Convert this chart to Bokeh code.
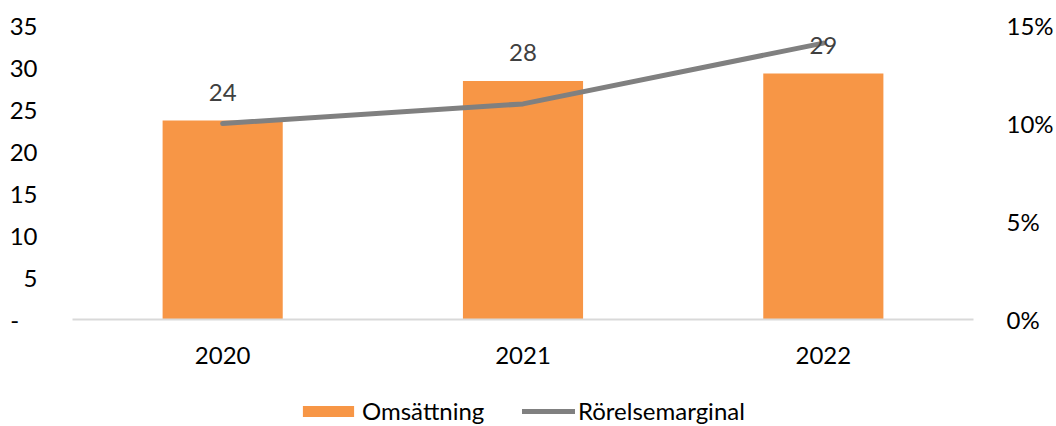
from bokeh.plotting import figure
from bokeh.layouts import column
from bokeh.models import (Range1d, LinearAxis, FixedTicker, NumeralTickFormatter,
                          Legend, LegendItem, ColumnDataSource)
from bokeh.core.properties import value
from bokeh.embed import file_html
from bokeh.resources import INLINE

years = ["2020", "2021", "2022"]
omsattning = [23.7, 28.4, 29.3]
omsattning_labels = ["24", "28", "29"]
marginal = [0.10, 0.11, 0.141]
left_ticks = [0, 5, 10, 15, 20, 25, 30, 35]
right_ticks = [0, 0.05, 0.10, 0.15]
series_names = ["Omsättning", "Rörelsemarginal"]

FONT = "Lato"
FS = "24px"
BAR_COLOR = "#F79646"
LINE_COLOR = "#808080"

src = ColumnDataSource(dict(x=years, y=omsattning, lab=omsattning_labels, m=marginal))

fig = figure(width=1056, height=386, x_range=years, y_range=Range1d(0, 35),
             output_backend="svg", toolbar_location=None,
             min_border_left=72, min_border_right=78, min_border_top=25, min_border_bottom=67)
fig.x_range.range_padding = 0
fig.outline_line_color = None
fig.grid.grid_line_color = None
fig.extra_y_ranges = {"pct": Range1d(0, 0.15)}

ya = fig.yaxis[0]
ya.ticker = FixedTicker(ticks=left_ticks)
ya.major_label_overrides = {0: "-\u00a0\u00a0\u00a0"}
ya.axis_line_color = None
ya.major_tick_line_color = None
ya.minor_tick_line_color = None
ya.major_label_standoff = 29
ya.major_label_text_font = FONT
ya.major_label_text_font_size = FS
ya.major_label_text_color = "#000000"

ra = LinearAxis(y_range_name="pct", ticker=FixedTicker(ticks=right_ticks),
                formatter=NumeralTickFormatter(format="0%"))
ra.axis_line_color = None
ra.major_tick_line_color = None
ra.minor_tick_line_color = None
ra.major_label_standoff = 27
ra.major_label_text_font = FONT
ra.major_label_text_font_size = FS
ra.major_label_text_color = "#000000"
fig.add_layout(ra, "right")

xa = fig.xaxis[0]
xa.axis_line_color = "#D9D9D9"
xa.axis_line_width = 2
xa.major_tick_line_color = None
xa.minor_tick_line_color = None
xa.major_label_standoff = 21
xa.major_label_text_font = FONT
xa.major_label_text_font_size = FS
xa.major_label_text_color = "#000000"

fig.vbar(x="x", top="y", width=0.4, source=src, fill_color=BAR_COLOR, line_color=None)
fig.line(x="x", y="m", source=src, y_range_name="pct", line_color=LINE_COLOR,
         line_width=5, line_cap="round", line_join="round")
fig.text(x="x", y="y", text="lab", source=src, text_align="center", text_baseline="middle",
         y_offset=-28, text_font=value(FONT), text_font_size=FS, text_color="#404040")

# legend strip (its sample renderers sit outside the visible range)
lg = figure(width=1056, height=40, x_range=Range1d(0, 1), y_range=Range1d(0, 1),
            output_backend="svg", toolbar_location=None,
            x_axis_location=None, y_axis_location=None,
            min_border_left=0, min_border_right=0, min_border_top=0, min_border_bottom=0)
lg.grid.visible = False
lg.outline_line_color = None
r_bar = lg.vbar(x=[-10], top=[-10], width=0.4, fill_color=BAR_COLOR, line_color=None)
r_line = lg.line(x=[-10, -9], y=[-10, -10], line_color=LINE_COLOR, line_width=5, line_cap="round")

common = dict(orientation="horizontal", glyph_height=14, padding=0, margin=0, spacing=0,
              border_line_color=None, background_fill_alpha=0,
              label_text_font=FONT, label_text_font_size=FS, label_text_color="#000000")
leg1 = Legend(items=[LegendItem(label=series_names[0], renderers=[r_bar])],
              location=(224, 1), glyph_width=64, label_standoff=2, **common)
leg2 = Legend(items=[LegendItem(label=series_names[1], renderers=[r_line])],
              location=(450, 1), glyph_width=53, label_standoff=3, **common)
lg.add_layout(leg1, "center")
lg.add_layout(leg2, "center")

p = column(fig, lg, spacing=0)

open("out.html", "w").write(file_html(p, INLINE))
